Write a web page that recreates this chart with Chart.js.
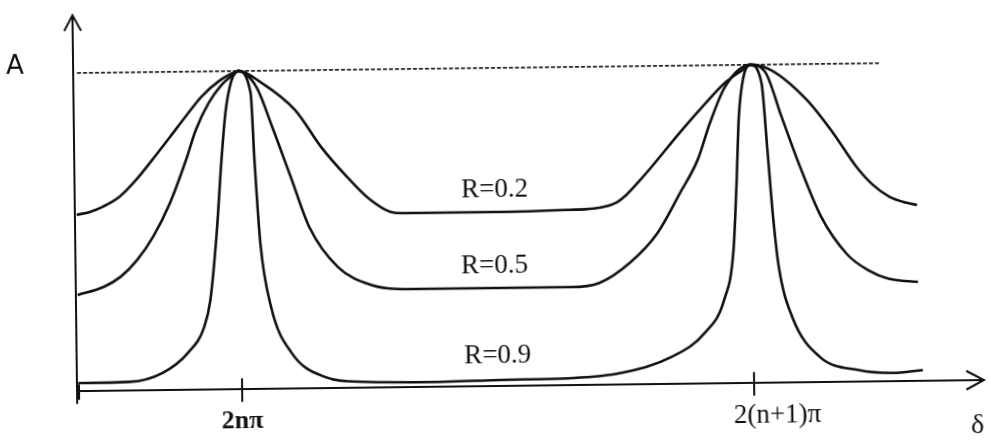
<!DOCTYPE html>
<html>
<head>
<meta charset="utf-8">
<title>Airy transmission curves</title>
<script src="https://cdn.jsdelivr.net/npm/chart.js@4.4.1/dist/chart.umd.min.js"></script>
<style>
  html, body { margin: 0; padding: 0; background: #fff; overflow: hidden; }
  #wrap { width: 991px; height: 443px; }
  /* the original sheet sits slightly askew */
  #airy { transform: rotate(-0.7deg); transform-origin: 50% 50%; }
</style>
</head>
<body>
<div id="wrap"><canvas id="airy" width="991" height="443"></canvas></div>
<script>
// phase delta in units of pi (0 = 2n pi, 2 = 2(n+1) pi), amplitude normalised to the peak
const r02Delta = [-0.638, -0.586, -0.535, -0.469, -0.404, -0.340, -0.273, -0.208, -0.145, -0.078, -0.020, 0,
                  0.09, 0.22, 0.32, 0.42, 0.51, 0.61, 0.74, 1.02, 1.29, 1.36, 1.42, 1.47, 1.51, 1.56, 1.61, 1.72, 1.81, 1.90, 1.97, 2,
                  2.08, 2.22, 2.32, 2.41, 2.473, 2.539, 2.605, 2.645];
const r02Amp = [0.554, 0.563, 0.579, 0.610, 0.662, 0.724, 0.792, 0.859, 0.921, 0.968, 0.994, 1.0,
                0.962, 0.875, 0.758, 0.663, 0.590, 0.548, 0.547, 0.547, 0.551, 0.553, 0.559, 0.572, 0.596, 0.638, 0.683, 0.788, 0.869, 0.944, 0.984, 1.0,
                0.983, 0.887, 0.783, 0.675, 0.618, 0.579, 0.560, 0.553];

const r05Delta = [-0.638, -0.535, -0.469, -0.404, -0.340, -0.273, -0.208, -0.169, -0.117, -0.066, -0.020, 0,
                  0.07, 0.13, 0.20, 0.27, 0.38, 0.51, 0.61, 0.74, 1.02, 1.29, 1.40, 1.52, 1.63, 1.72, 1.79, 1.84, 1.90, 2,
                  2.06, 2.12, 2.19, 2.27, 2.37, 2.45, 2.53, 2.645];
const r05Amp = [0.302, 0.327, 0.358, 0.410, 0.483, 0.588, 0.723, 0.816, 0.901, 0.957, 0.988, 1.0,
                0.949, 0.823, 0.665, 0.507, 0.380, 0.322, 0.309, 0.308, 0.308, 0.308, 0.320, 0.382, 0.475, 0.600, 0.703, 0.819, 0.931, 1.0,
                0.974, 0.835, 0.677, 0.519, 0.400, 0.350, 0.322, 0.311];

const r09Delta = [-0.64, -0.44, -0.31, -0.21, -0.145, -0.12, -0.091, -0.071, -0.052, -0.027, 0,
                  0.047, 0.059, 0.078, 0.117, 0.195, 0.324, 0.48, 0.74, 1.02, 1.29, 1.48, 1.68, 1.81, 1.887, 1.926, 1.941, 1.953, 1.973, 2,
                  2.043, 2.063, 2.082, 2.102, 2.152, 2.258, 2.41, 2.54, 2.66];
const r09Amp = [0.025, 0.027, 0.054, 0.116, 0.197, 0.28, 0.50, 0.71, 0.87, 0.97, 1.0,
                0.931, 0.720, 0.459, 0.257, 0.112, 0.035, 0.018, 0.015, 0.019, 0.022, 0.036, 0.085, 0.159, 0.262, 0.419, 0.629, 0.836, 0.962, 1.0,
                0.943, 0.732, 0.521, 0.364, 0.206, 0.079, 0.036, 0.026, 0.034];

// dotted line marking the maximum
const maxDelta = [-0.63, 2.51];
const maxAmp = [1.0, 1.0];

// curve names and where they are written
const curveLabels = ['R=0.2', 'R=0.5', 'R=0.9'];
const labelDelta = [0.996, 0.992, 1.0];
const labelAmp = [0.616, 0.377, 0.094];

// x axis ticks
const tickDelta = [0, 2];
const tickLabels = ['2nπ', '2(n+1)π'];

function toPoints(xs, ys) {
    return xs.map((x, i) => ({ x: x, y: ys[i] }));
}

function curve(xs, ys) {
    return {
        data: toPoints(xs, ys),
        borderColor: '#111',
        borderWidth: 2.6,
        pointRadius: 0,
        cubicInterpolationMode: 'monotone',
        fill: false
    };
}

// axes with arrow heads, ticks and all the text
const sketchAxes = {
    id: 'sketchAxes',
    afterDraw(chart) {
        const ctx = chart.ctx;
        const xs = chart.scales.x;
        const ys = chart.scales.y;
        const area = chart.chartArea;
        const x0 = area.left;
        const y0 = ys.getPixelForValue(0);

        ctx.save();
        ctx.strokeStyle = '#111';
        ctx.fillStyle = '#111';
        ctx.lineWidth = 2;
        ctx.lineCap = 'round';

        // vertical axis
        ctx.beginPath();
        ctx.moveTo(x0, y0 + 12);
        ctx.lineTo(x0, area.top);
        ctx.moveTo(x0 - 8, area.top + 15);
        ctx.lineTo(x0, area.top);
        ctx.lineTo(x0 + 8, area.top + 15);
        ctx.stroke();

        // horizontal axis
        ctx.beginPath();
        ctx.moveTo(x0, y0);
        ctx.lineTo(area.right, y0);
        ctx.moveTo(area.right - 17, y0 - 9);
        ctx.lineTo(area.right, y0);
        ctx.lineTo(area.right - 17, y0 + 9);
        ctx.stroke();

        // ticks
        ctx.beginPath();
        ctx.moveTo(x0 + 2, y0 - 6);
        ctx.lineTo(x0 + 2, y0 + 8);
        tickDelta.forEach(d => {
            const px = xs.getPixelForValue(d);
            ctx.moveTo(px, y0 - 10);
            ctx.lineTo(px, y0 + 12);
        });
        ctx.stroke();

        ctx.textAlign = 'center';
        ctx.textBaseline = 'middle';

        ctx.font = 'bold 26px "Liberation Serif", serif';
        ctx.fillText(tickLabels[0], xs.getPixelForValue(tickDelta[0]), y0 + 32);
        ctx.font = '27px "Liberation Serif", serif';
        ctx.fillText(tickLabels[1], xs.getPixelForValue(tickDelta[1]) + 23, y0 + 33);

        ctx.font = '27px "Liberation Serif", serif';
        curveLabels.forEach((t, i) => {
            ctx.fillText(t, xs.getPixelForValue(labelDelta[i]), ys.getPixelForValue(labelAmp[i]));
        });

        ctx.font = '26px "DejaVu Sans", sans-serif';
        ctx.fillText('A', x0 - 58, ys.getPixelForValue(1.02));
        ctx.font = '28px "Liberation Serif", serif';
        ctx.fillText('δ', area.right - 7, y0 + 46);

        ctx.restore();
    }
};

new Chart(document.getElementById('airy'), {
    type: 'line',
    data: {
        datasets: [
            curve(r02Delta, r02Amp),
            curve(r05Delta, r05Amp),
            curve(r09Delta, r09Amp),
            {
                data: toPoints(maxDelta, maxAmp),
                borderColor: '#222',
                borderWidth: 1.6,
                borderDash: [4, 2],
                pointRadius: 0,
                fill: false
            }
        ]
    },
    options: {
        responsive: false,
        animation: false,
        events: [],
        layout: { padding: { left: 75, right: 9, top: 10, bottom: 57 } },
        plugins: {
            legend: { display: false },
            tooltip: { enabled: false }
        },
        scales: {
            x: { type: 'linear', min: -0.645, max: 2.898, display: false },
            y: { type: 'linear', min: 0, max: 1.182, display: false }
        }
    },
    plugins: [sketchAxes]
});
</script>
</body>
</html>
